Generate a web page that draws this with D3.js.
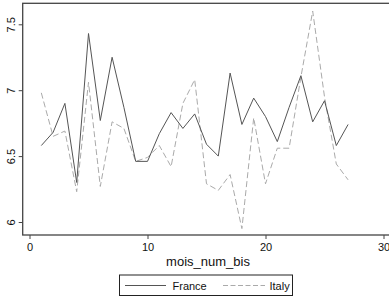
<!DOCTYPE html>
<html><head><meta charset="utf-8">
<script src="https://cdn.jsdelivr.net/npm/d3@7"></script>
<style>body{margin:0;background:#fff}svg{display:block}text{font-family:"Liberation Sans",Arial,sans-serif}</style>
</head><body>
<script>
const months = d3.range(1, 28);
const france = [6.58,6.68,6.90,6.30,7.43,6.77,7.25,6.87,6.46,6.46,6.67,6.83,6.71,6.82,6.59,6.50,7.13,6.74,6.94,6.80,6.61,6.87,7.11,6.76,6.92,6.58,6.74];
const italy  = [6.98,6.65,6.69,6.23,7.06,6.27,6.76,6.71,6.46,6.49,6.58,6.42,6.90,7.08,6.29,6.24,6.36,5.95,6.79,6.29,6.56,6.56,7.10,7.60,6.95,6.44,6.32];
const xTicks = [0,10,20,30];
const yTicks = [6,6.5,7,7.5];
const yTickLabels = ["6","6.5","7","7.5"];
const seriesNames = ["France","Italy"];

(function(){
const W = 389, H = 297;
const svg = d3.select("body").append("svg").attr("width", W).attr("height", H);
const x = d3.scaleLinear().domain([0,30]).range([29.5,383.5]);
const y = d3.scaleLinear().domain([6,7.5]).range([222,24.3]);
const pl = 22.7, pt = 3.3, pb = 235, pr = 394;

svg.append("rect").attr("x", pl).attr("y", pt).attr("width", pr-pl).attr("height", pb-pt)
  .attr("fill","none").attr("stroke","#444").attr("stroke-width",1.3);

const xa = svg.append("g").attr("transform", `translate(0,${pb})`)
  .call(d3.axisBottom(x).tickValues(xTicks).tickSize(4).tickPadding(4).tickFormat(d3.format("d")));
xa.select(".domain").remove();
xa.selectAll("line").attr("stroke","#444");
xa.selectAll("text").attr("font-size",11).attr("fill","#111");

const ya = svg.append("g").attr("transform", `translate(${pl},0)`)
  .call(d3.axisLeft(y).tickValues(yTicks).tickSize(4).tickFormat((d,i)=>yTickLabels[i]));
ya.select(".domain").remove();
ya.selectAll("line").attr("stroke","#444");
ya.selectAll(".tick text").attr("font-size",11).attr("fill","#111")
  .attr("text-anchor","middle").attr("x",0).attr("dy",0)
  .attr("transform","translate(-11,0) rotate(-90)").attr("dominant-baseline","middle");

const line = d3.line().x((d,i)=>x(months[i])).y(d=>y(d));
svg.append("path").datum(italy).attr("d", line).attr("fill","none")
  .attr("stroke","#aaa").attr("stroke-width",1).attr("stroke-dasharray","6,3");
svg.append("path").datum(france).attr("d", line).attr("fill","none")
  .attr("stroke","#555").attr("stroke-width",1);

svg.append("text").attr("x", 208).attr("y", 266).attr("text-anchor","middle")
  .attr("font-size",13).attr("fill","#111").text("mois_num_bis");

const lg = svg.append("g");
lg.append("rect").attr("x",119.5).attr("y",275).attr("width",173).attr("height",20.5)
  .attr("fill","#fff").attr("stroke","#222").attr("stroke-width",1);
lg.append("line").attr("x1",125).attr("x2",166).attr("y1",285.5).attr("y2",285.5)
  .attr("stroke","#555").attr("stroke-width",1);
lg.append("text").attr("x",172.5).attr("y",289.5).attr("font-size",11).attr("fill","#111").text(seriesNames[0]);
lg.append("line").attr("x1",223).attr("x2",265).attr("y1",285.5).attr("y2",285.5)
  .attr("stroke","#aaa").attr("stroke-width",1).attr("stroke-dasharray","5,2.5");
lg.append("text").attr("x",269.5).attr("y",289.5).attr("font-size",11).attr("fill","#111").text(seriesNames[1]);
})();
</script>
</body></html>
